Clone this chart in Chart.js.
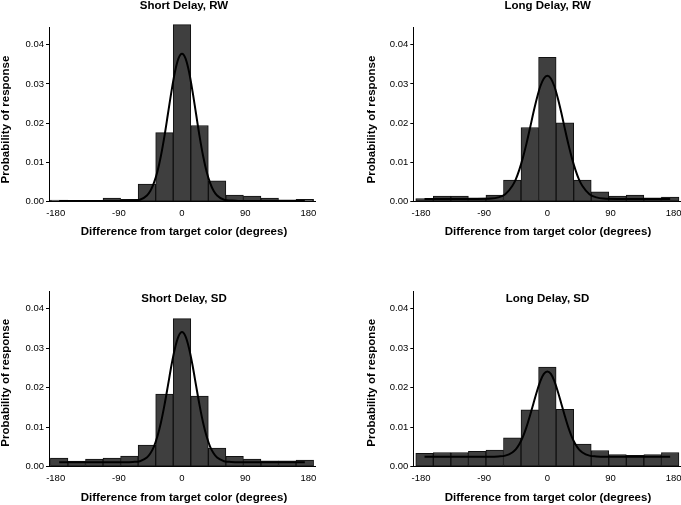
<!DOCTYPE html>
<html><head><meta charset="utf-8">
<script src="https://cdn.jsdelivr.net/npm/chart.js@4.4.1/dist/chart.umd.min.js"></script>
<style>
html,body{margin:0;padding:0;background:#fff;}
#wrap{position:relative;width:681px;height:505px;overflow:hidden;background:#fff;}
canvas{position:absolute;display:block;}
</style></head><body>
<div id="wrap">
<canvas id="c0" width="340" height="253" style="left:0px;top:0px;width:340px;height:253px"></canvas>
<canvas id="c1" width="341" height="253" style="left:340px;top:0px;width:341px;height:253px"></canvas>
<canvas id="c2" width="340" height="252" style="left:0px;top:253px;width:340px;height:252px"></canvas>
<canvas id="c3" width="341" height="252" style="left:340px;top:253px;width:341px;height:252px"></canvas>
</div>
<script>
// ---- data ----
const binCenters = [-175,-150,-125,-100,-75,-50,-25,0,25,50,75,100,125,150,175];
const xTickValues = [-180,-90,0,90,180];
const yTickValues = [0,0.01,0.02,0.03,0.04];
const titles = ['Short Delay, RW','Long Delay, RW','Short Delay, SD','Long Delay, SD'];
const xAxisTitle = 'Difference from target color (degrees)';
const yAxisTitle = 'Probability of response';

const shortRwBars = [0.0004,0.0003,0.0003,0.0009,0.0006,0.0045,0.0176,0.0451,0.0194,0.0053,0.0017,0.0014,0.0009,0.0005,0.0006];
const longRwBars  = [0.0008,0.0014,0.0014,0.0010,0.0017,0.0055,0.0189,0.0368,0.0201,0.0055,0.0025,0.0014,0.0017,0.0010,0.0012];
const shortSdBars = [0.0022,0.0014,0.0019,0.0022,0.0027,0.0055,0.0184,0.0375,0.0179,0.0047,0.0026,0.0019,0.0015,0.0015,0.0017];
const longSdBars  = [0.0034,0.0036,0.0036,0.0039,0.0042,0.0073,0.0144,0.0252,0.0145,0.0057,0.0041,0.0031,0.0029,0.0031,0.0036];

const curveX = [-175,-150,-125,-100,-80,-70,-60,-50,-45,-40,-35,-30,-25,-20,-15,-10,-5,0,5,10,15,20,25,30,35,40,45,50,60,70,80,100,125,150,175];
const shortRwCurve = [0.0002,0.0002,0.0002,0.0002,0.0002,0.0003,0.0005,0.0016,0.0028,0.0048,0.0077,0.0117,0.0167,0.0224,0.0281,0.0331,0.0365,0.0377,0.0365,0.0331,0.0281,0.0224,0.0167,0.0117,0.0077,0.0048,0.0028,0.0016,0.0005,0.0003,0.0002,0.0002,0.0002,0.0002,0.0002];
const longRwCurve  = [0.0007,0.0007,0.0007,0.0007,0.0008,0.0011,0.0019,0.0040,0.0057,0.0081,0.0111,0.0146,0.0185,0.0226,0.0263,0.0294,0.0314,0.0321,0.0314,0.0294,0.0263,0.0226,0.0185,0.0146,0.0111,0.0081,0.0057,0.0040,0.0019,0.0011,0.0008,0.0007,0.0007,0.0007,0.0007];
const shortSdCurve = [0.0011,0.0011,0.0011,0.0011,0.0011,0.0012,0.0014,0.0023,0.0034,0.0051,0.0077,0.0112,0.0156,0.0206,0.0257,0.0300,0.0330,0.0341,0.0330,0.0300,0.0257,0.0206,0.0156,0.0112,0.0077,0.0051,0.0034,0.0023,0.0014,0.0012,0.0011,0.0011,0.0011,0.0011,0.0011];
const longSdCurve  = [0.0025,0.0025,0.0025,0.0025,0.0025,0.0026,0.0028,0.0036,0.0044,0.0057,0.0075,0.0099,0.0128,0.0159,0.0190,0.0217,0.0235,0.0241,0.0235,0.0217,0.0190,0.0159,0.0128,0.0099,0.0075,0.0057,0.0044,0.0036,0.0028,0.0026,0.0025,0.0025,0.0025,0.0025,0.0025];

const barSeries = [shortRwBars, longRwBars, shortSdBars, longSdBars];
const curveSeries = [shortRwCurve, longRwCurve, shortSdCurve, longSdCurve];

// ---- layout (not data) ----
const panels = [
  {id:'c0', W:340, H:253, L:49,   R:315, T:27, B:201.7, xmin:-189.5, xmax:189.5, tp:[184,6],     xt:[184,232],   yt:[6,119.5]},
  {id:'c1', W:341, H:253, L:73.3, R:340, T:27, B:201.7, xmin:-191,   xmax:189,   tp:[207.7,6],   xt:[208,232],   yt:[31.5,119.5]},
  {id:'c2', W:340, H:252, L:49,   R:315, T:38, B:213.7, xmin:-189.5, xmax:189.5, tp:[184,45.7],  xt:[184,244.8], yt:[6,129.8]},
  {id:'c3', W:341, H:252, L:73.3, R:340, T:38, B:213.7, xmin:-191,   xmax:189,   tp:[207.5,45.7],xt:[208,244.8], yt:[31.5,129.8]}
];
const FONT = "'Liberation Sans', Arial, Helvetica, sans-serif";

panels.forEach((p, i) => {
  const textPlugin = {
    id: 'panelText' + i,
    afterDraw(chart) {
      const ctx = chart.ctx;
      ctx.save();
      ctx.fillStyle = '#000';
      ctx.font = 'bold 11.5px ' + FONT;
      ctx.textAlign = 'center';
      ctx.textBaseline = 'middle';
      ctx.fillText(titles[i], p.tp[0], p.tp[1]);
      ctx.fillText(xAxisTitle, p.xt[0], p.xt[1]);
      ctx.translate(p.yt[0], p.yt[1]);
      ctx.rotate(-Math.PI / 2);
      ctx.fillText(yAxisTitle, 0, 0);
      ctx.restore();
    }
  };
  new Chart(document.getElementById(p.id), {
    type: 'bar',
    data: {
      datasets: [
        {
          type: 'line',
          order: 0,
          data: curveX.map((x, k) => ({x: x, y: curveSeries[i][k]})),
          borderColor: '#000',
          borderWidth: 2,
          pointRadius: 0,
          fill: false,
          cubicInterpolationMode: 'monotone'
        },
        {
          type: 'bar',
          order: 1,
          data: binCenters.map((x, k) => ({x: x, y: barSeries[i][k]})),
          backgroundColor: '#3f3f3f',
          borderColor: '#111',
          borderWidth: 1,
          borderSkipped: false,
          categoryPercentage: 1.0,
          barPercentage: 1.0,
          clip: false
        }
      ]
    },
    options: {
      responsive: false,
      animation: false,
      devicePixelRatio: 1,
      layout: {padding: {left: 0, top: p.T, right: p.W - p.R, bottom: 0}},
      plugins: {legend: {display: false}, tooltip: {enabled: false}, title: {display: false}},
      scales: {
        x: {
          type: 'linear',
          offset: false,
          bounds: 'ticks',
          min: p.xmin, max: p.xmax,
          afterFit(s) { s.height = p.H - p.B; s.paddingLeft = 0; s.paddingRight = 0; },
          afterBuildTicks(s) { s.ticks = xTickValues.map(v => ({value: v})); },
          grid: {display: false, drawTicks: false, offset: false},
          border: {display: true, color: '#000', width: 1},
          ticks: {color: '#000', font: {family: FONT, size: 9.5}, padding: 6, maxRotation: 0, autoSkip: false,
                  callback: v => String(v)}
        },
        y: {
          type: 'linear',
          min: 0, max: 0.0445,
          afterFit(s) { s.width = p.L; s.paddingTop = 0; s.paddingBottom = 0; },
          afterBuildTicks(s) { s.ticks = yTickValues.map(v => ({value: v})); },
          grid: {display: true, drawOnChartArea: false, drawTicks: true, tickLength: 3, color: '#000', lineWidth: 1},
          border: {display: true, color: '#000', width: 1},
          ticks: {color: '#000', font: {family: FONT, size: 9.5}, padding: 2, autoSkip: false,
                  callback: v => Number(v).toFixed(2)}
        }
      }
    },
    plugins: [textPlugin]
  });
});
</script>
</body></html>
